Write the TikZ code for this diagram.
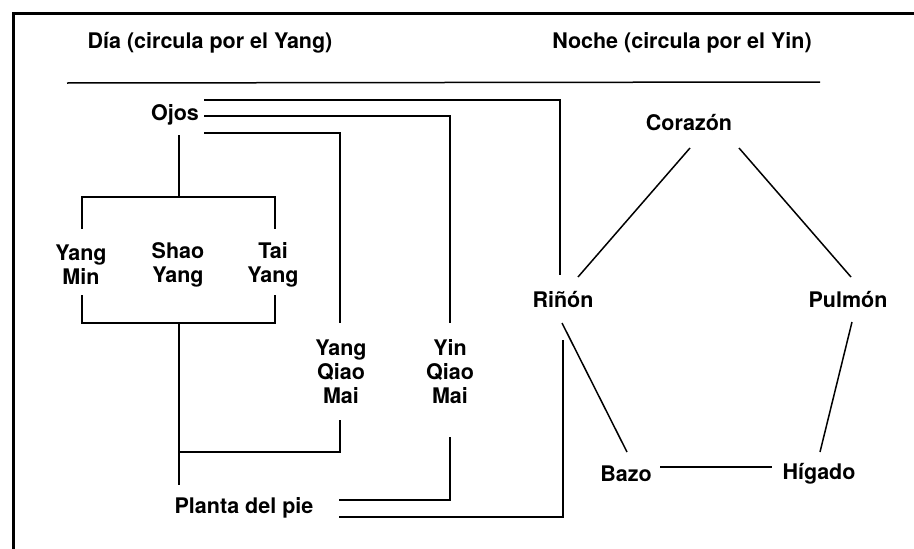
\documentclass[tikz,border=0pt]{standalone}
\usepackage{fontspec}
\setmainfont{TeX Gyre Heros}
\usepackage{tikz}

\begin{document}
\begin{tikzpicture}[x=1pt, y=-1pt, inner sep=0pt,
  organ/.style={font=\bfseries\fontsize{21.5}{24}\selectfont, align=center},
  link/.style={line width=1.5pt}]
\useasboundingbox (0,0) rectangle (914,549);
\draw[line width=3pt] (13,549) -- (13,13) -- (914,13);
% titles
\node (dia) at (210,43) [organ] {Día (circula por el Yang)};
\node (noche) at (682,43) [organ] {Noche (circula por el Yin)};
\draw[link] (67,83) -- (820,82);
% day side
\node (ojos) at (175,115) [organ] {Ojos};
\node (yangmin) at (81,265) [organ] {Yang\\Min};
\node (shaoyang) at (178,265) [organ] {Shao\\Yang};
\node (taiyang) at (273,265) [organ] {Tai\\Yang};
\node (yangqiao) at (341,372) [organ] {Yang\\Qiao\\Mai};
\node (yinqiao) at (450,372) [organ] {Yin\\Qiao\\Mai};
\node (planta) at (244,508) [organ] {Planta del pie};
\coordinate (topjoin) at (179,197);
\coordinate (lowjoin) at (179,323);
\coordinate (footjoin) at (179,452);
% night side
\node (corazon) at (689,123) [organ] {Corazón};
\node (rinon) at (563,300) [organ] {Riñón};
\node (pulmon) at (848,300) [organ] {Pulmón};
\node (bazo) at (626,474) [organ] {Bazo};
\node (higado) at (819,474) [organ] {Hígado};
% eyes to the three channels
\draw[link] ([shift={(4,20)}]ojos.center) -- (topjoin);
\draw[link] ([shift={(1,-36)}]yangmin.center) |- (topjoin) -| ([shift={(2,-36)}]taiyang.center);
\draw[link] ([shift={(1,30)}]yangmin.center) |- (lowjoin) -| ([shift={(2,30)}]taiyang.center);
\draw[link] (lowjoin) -- ([shift={(-65,-23)}]planta.center);
% the qiao vessels
\draw[link] ([shift={(5,18)}]ojos.east) -| ([shift={(-1,-49)}]yangqiao.center);
\draw[link] ([shift={(-1,48)}]yangqiao.center) |- (footjoin);
\draw[link] ([shift={(5,1)}]ojos.east) -| ([shift={(0,-49)}]yinqiao.center);
\draw[link] ([shift={(0,65)}]yinqiao.center) |- ([shift={(25,-8)}]planta.east);
% kidney loop
\draw[link] ([shift={(5,-15)}]ojos.east) -| ([shift={(-3,-25)}]rinon.center);
\draw[link] ([shift={(0,40)}]rinon.center) |- ([shift={(25,9)}]planta.east);
% organ cycle
\draw[link] ([shift={(1,25)}]corazon.center) -- ([shift={(15,-23)}]rinon.center);
\draw[link] ([shift={(50,25)}]corazon.center) -- ([shift={(3,-23)}]pulmon.center);
\draw[link] ([shift={(-1,23)}]rinon.center) -- ([shift={(1,-22)}]bazo.center);
\draw[link] ([shift={(34,-7)}]bazo.center) -- ([shift={(-47,-7)}]higado.center);
\draw[link] ([shift={(4,22)}]pulmon.center) -- ([shift={(1,-22)}]higado.center);
\end{tikzpicture}
\end{document}
